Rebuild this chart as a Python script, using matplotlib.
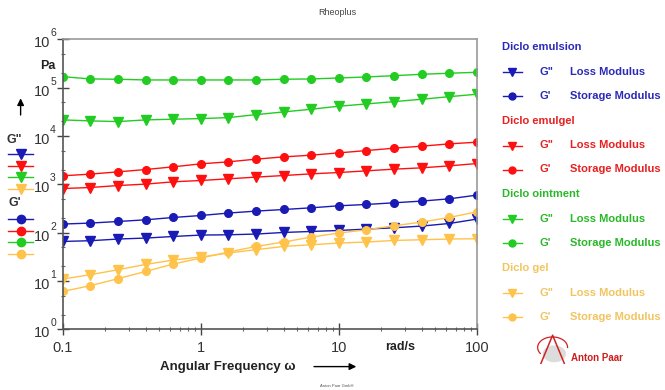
import matplotlib
matplotlib.use("Agg")
import matplotlib.pyplot as plt
import matplotlib.transforms as mtransforms
from matplotlib.ticker import LogLocator
import numpy as np

plt.rcParams['font.family'] = ['Liberation Sans', 'DejaVu Sans']

# angular frequency, rad/s
omega = [0.1, 0.158, 0.251, 0.398, 0.631, 1.0, 1.58, 2.51, 3.98, 6.31,
         10.0, 15.8, 25.1, 39.8, 63.1, 100.0]

# log10 of modulus in Pa
emulsion_loss = [1.818, 1.833, 1.868, 1.888, 1.921, 1.950, 1.956, 1.971,
                 2.004, 2.025, 2.045, 2.074, 2.101, 2.136, 2.190, 2.281]
emulsion_storage = [2.178, 2.198, 2.231, 2.266, 2.314, 2.355, 2.405, 2.446,
                    2.479, 2.514, 2.556, 2.583, 2.618, 2.653, 2.700, 2.777]
emulgel_loss = [2.913, 2.934, 2.975, 3.004, 3.052, 3.079, 3.114, 3.149,
                3.182, 3.217, 3.244, 3.279, 3.314, 3.341, 3.382, 3.430]
emulgel_storage = [3.176, 3.211, 3.258, 3.306, 3.362, 3.424, 3.465, 3.521,
                   3.568, 3.603, 3.651, 3.698, 3.748, 3.789, 3.837, 3.872]
ointment_loss = [4.333, 4.312, 4.298, 4.333, 4.347, 4.360, 4.380, 4.442,
                 4.498, 4.554, 4.616, 4.663, 4.711, 4.760, 4.814, 4.864]
ointment_storage = [5.227, 5.180, 5.174, 5.159, 5.159, 5.159, 5.159, 5.159,
                    5.174, 5.180, 5.200, 5.221, 5.248, 5.277, 5.298, 5.318]
gel_loss = [1.041, 1.130, 1.233, 1.343, 1.434, 1.496, 1.579, 1.647,
            1.715, 1.750, 1.785, 1.806, 1.839, 1.853, 1.868, 1.874]
gel_storage = [0.785, 0.903, 1.048, 1.198, 1.351, 1.475, 1.599, 1.715,
               1.806, 1.909, 1.992, 2.060, 2.143, 2.219, 2.314, 2.432]

samples = ["Diclo emulsion", "Diclo emulgel", "Diclo ointment", "Diclo gel"]
line_colors = ["#1a1ab4", "#ff1010", "#22cc22", "#ffc24a"]
text_colors = ["#2a2ab8", "#e82020", "#28b828", "#f2c460"]
loss = [emulsion_loss, emulgel_loss, ointment_loss, gel_loss]
storage = [emulsion_storage, emulgel_storage, ointment_storage, gel_storage]

fig = plt.figure(figsize=(6.65, 3.90), dpi=100)
ax = fig.add_axes([0.0947, 0.1556, 0.6226, 0.7436])

for c, gl, gs in zip(line_colors, loss, storage):
    ax.plot(omega, 10 ** np.array(gs), '-o', color=c, lw=1.0, ms=5.5)
    ax.plot(omega, 10 ** np.array(gl), '-v', color=c, lw=1.0, ms=6.5)

ax.set_xscale('log')
ax.set_yscale('log')
ax.set_xlim(0.1, 100)
ax.set_ylim(1, 1e6)
for s in ax.spines.values():
    s.set_color('#9a9a9a')
    s.set_linewidth(1.2)
ax.spines['left'].set_color('#555555')
ax.spines['bottom'].set_color('#555555')

ax.yaxis.set_minor_locator(LogLocator(base=10, subs=(2.0, 5.0)))
ax.tick_params(which='major', direction='inout', length=9, width=1.0,
               color='#444444', right=False, top=False)
ax.tick_params(which='minor', direction='inout', length=3.5, width=0.8,
               color='#666666')
ax.set_xticks([0.1, 1, 10, 100])
ax.set_xticklabels(['0.1', '1', '10', '100'], fontsize=10.5, color='#333333')
ax.set_yticks([10 ** k for k in range(7)])
ax.set_yticklabels([])
ax.tick_params(axis='x', pad=4)

ytr = ax.get_yaxis_transform()
down = mtransforms.ScaledTranslation(0, -4 / 100, fig.dpi_scale_trans)
up = mtransforms.ScaledTranslation(0, 6 / 100, fig.dpi_scale_trans)
for k in range(7):
    ax.text(-0.031, 10 ** k, '10', transform=ytr + down, ha='right',
            va='center', fontsize=10.5, color='#333333')
    ax.text(-0.031, 10 ** k, str(k), transform=ytr + up, ha='left',
            va='center', fontsize=7.5, color='#333333')

ax.text(27.7, -0.061, 'rad/s', transform=ax.get_xaxis_transform(),
        fontsize=9, fontweight='bold', ha='center', va='center',
        color='#222222')

# titles and axis captions
fig.text(0.507, 0.967, 'Rheoplus', fontsize=6.5, ha='center', va='center',
         color='#444444')
fig.text(0.342, 0.06, 'Angular Frequency \u03c9', fontsize=9.5,
         fontweight='bold', ha='center', va='center', color='#222222')
ax.annotate('', xy=(0.54, 0.06), xytext=(0.468, 0.06),
            xycoords='figure fraction', annotation_clip=False,
            arrowprops=dict(arrowstyle='-|>', color='black', lw=1.0,
                            mutation_scale=10))
fig.text(0.507, 0.009, 'Anton Paar GmbH', fontsize=3, ha='center',
         va='center', color='#555555')

# left side: unit, arrow and marker key
fig.text(0.072, 0.83, 'Pa', fontsize=9, fontweight='bold', ha='center',
         va='center', color='#222222')
ax.annotate('', xy=(0.031, 0.755), xytext=(0.031, 0.698),
            xycoords='figure fraction', annotation_clip=False,
            arrowprops=dict(arrowstyle='-|>', color='black', lw=1.0,
                            mutation_scale=10))
fig.text(0.022, 0.641, 'G"', fontsize=9, fontweight='bold', ha='center',
         va='center', color='#333333')
fig.text(0.022, 0.479, "G'", fontsize=9, fontweight='bold', ha='center',
         va='center', color='#333333')
for i, c in enumerate(line_colors):
    y1 = 1 - (154 + 11.7 * i) / 390
    y2 = 1 - (219 + 11.7 * i) / 390
    for yy, mk in [(y1, 'v'), (y2, 'o')]:
        fig.add_artist(plt.Line2D([0.012, 0.05], [yy, yy], color=c, lw=1.0,
                                  transform=fig.transFigure))
        fig.add_artist(plt.Line2D([0.031], [yy], color=c, marker=mk,
                                  ms=6 if mk == 'o' else 6.5,
                                  transform=fig.transFigure))

# right side legend
for i, (name, lc, tc) in enumerate(zip(samples, line_colors, text_colors)):
    yh = 1 - (46.7 + 73.8 * i) / 390
    yl = 1 - (71.7 + 73.8 * i) / 390
    ys = 1 - (95.7 + 73.8 * i) / 390
    fig.text(0.755, yh, name, fontsize=8, fontweight='bold', color=tc,
             va='center')
    for yy, mk, g, lab in [(yl, 'v', 'G"', 'Loss Modulus'),
                           (ys, 'o', "G'", 'Storage Modulus')]:
        fig.add_artist(plt.Line2D([0.756, 0.785], [yy, yy], color=lc, lw=1.0,
                                  transform=fig.transFigure))
        fig.add_artist(plt.Line2D([0.770], [yy], color=lc, marker=mk,
                                  ms=5 if mk == 'o' else 6,
                                  transform=fig.transFigure))
        fig.text(0.812, yy, g, fontsize=8, fontweight='bold', color=tc,
                 va='center')
        fig.text(0.857, yy, lab, fontsize=8, fontweight='bold', color=tc,
                 va='center')

# Anton Paar mark
lax = fig.add_axes([0.806, 0.055, 0.05, 0.09])
lax.axis('off')
t = np.linspace(0, 2 * np.pi, 100)
lax.fill(0.55 + 0.33 * np.cos(t), 0.42 + 0.22 * np.sin(t), color='#dcdcdc')
lax.plot([0.15, 0.5, 0.85], [0.15, 0.95, 0.15], color='#cc2222', lw=1.1)
lax.plot(0.5 + 0.45 * np.cos(t[:60]), 0.6 + 0.3 * np.sin(t[:60]),
         color='#cc2222', lw=0.9)
lax.set_xlim(0, 1)
lax.set_ylim(0, 1)
fig.text(0.858, 0.082, 'Anton Paar', fontsize=7, fontweight='bold',
         color='#cc1f1f', va='center')

fig.savefig('out.png', dpi=100)
